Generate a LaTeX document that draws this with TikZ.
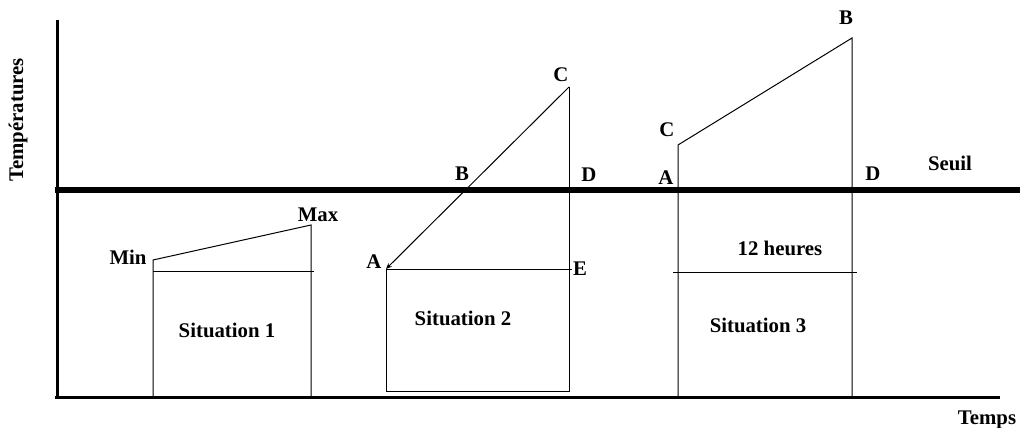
\documentclass[tikz,border=0pt]{standalone}
\usepackage{fontspec}
\setmainfont{Liberation Serif}
\usetikzlibrary{arrows.meta}
\begin{document}
\begin{tikzpicture}[x=1pt,y=-1pt,
  thinln/.style={line width=1pt},
  axisln/.style={line width=3pt},
  seuilln/.style={line width=5.5pt},
  lbl/.style={font=\fontsize{20.8}{24}\selectfont\bfseries, inner sep=0pt}]
\useasboundingbox (0,0) rectangle (1020,428);
% axes
\coordinate (ytop) at (57,20);
\coordinate (ybot) at (57,398);
\coordinate (xl) at (55,397);
\coordinate (xr) at (1000,397);
\coordinate (sl) at (55,190);
\coordinate (sr) at (1020,190);
\draw[axisln] (ytop) -- (ybot);
\draw[axisln] (xl) -- (xr);
\draw[seuilln] (sl) -- (sr);
\node[lbl, rotate=90] (temp) at (18,120) {Températures};
\node[lbl] (temps) at (987,420) {Temps};
\node[lbl] (seuil) at (950,163) {Seuil};
% situation 1
\coordinate (s1min) at (153,260);
\coordinate (s1max) at (311,225);
\coordinate (s1bl) at (153,397);
\coordinate (s1br) at (311,397);
\coordinate (s1hl) at (153,271);
\coordinate (s1hr) at (314,271);
\draw[thinln] (s1bl) -- (s1min) -- (s1max) -- (s1br);
\draw[thinln] (s1hl) -- (s1hr);
\node[lbl] (min) at (128,257) {Min};
\node[lbl] (max) at (318,215) {Max};
\node[lbl] (sit1) at (227,330) {Situation 1};
% situation 2
\coordinate (s2A) at (386,269);
\coordinate (s2C) at (569,87);
\coordinate (s2bl) at (386,391);
\coordinate (s2br) at (569,391);
\coordinate (s2E) at (572,269);
\draw[thinln] (s2A) -- (s2bl) -- (s2br) -- (s2C);
\draw[thinln] (s2A) -- (s2E);
\draw[thinln, -{Stealth[length=6pt,width=5pt]}] (s2C) -- (s2A);
\node[lbl] (c2) at (561,75) {C};
\node[lbl] (b2) at (462,174) {B};
\node[lbl] (d2) at (589,175) {D};
\node[lbl] (a2) at (374,262) {A};
\node[lbl] (e2) at (580,269) {E};
\node[lbl] (sit2) at (463,318) {Situation 2};
% situation 3
\coordinate (s3C) at (678,145);
\coordinate (s3B) at (852,38);
\coordinate (s3bl) at (678,397);
\coordinate (s3br) at (852,397);
\coordinate (s3hl) at (673,272);
\coordinate (s3hr) at (857,272);
\draw[thinln] (s3bl) -- (s3C) -- (s3B) -- (s3br);
\draw[thinln] (s3hl) -- (s3hr);
\node[lbl] (b3) at (846,18) {B};
\node[lbl] (c3) at (667,130) {C};
\node[lbl] (a3) at (666,178) {A};
\node[lbl] (d3) at (873,174) {D};
\node[lbl] (h12) at (780,248) {12 heures};
\node[lbl] (sit3) at (758,325) {Situation 3};
\end{tikzpicture}
\end{document}
